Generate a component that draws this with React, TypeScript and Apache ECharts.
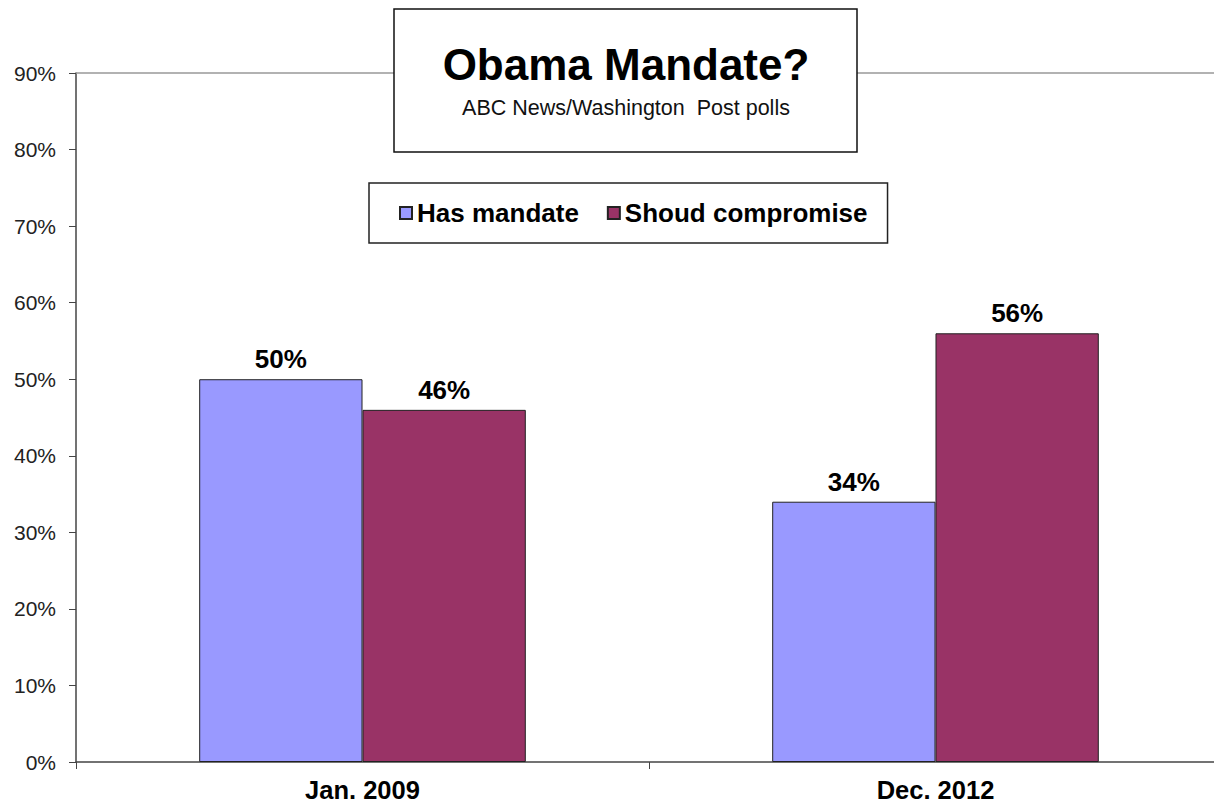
import React, { useEffect, useRef } from "react";
import * as echarts from "echarts";

const categories = ["Jan. 2009", "Dec. 2012"];
const hasMandate = [50, 34];
const shouldCompromise = [46, 56];
const seriesNames = ["Has mandate", "Shoud compromise"];
const yTicksMax = 90;
const titleText = "Obama Mandate?";
const subtitleText = "ABC News/Washington  Post polls";

const FONT = "'Liberation Sans', Arial, Helvetica, sans-serif";

export default function App() {
  const ref = useRef<HTMLDivElement>(null);
  useEffect(() => {
    document.body.style.margin = "0";
    document.body.style.overflow = "hidden";
    const chart = echarts.init(ref.current!, null, { renderer: "svg" });
    const labelStyle = {
      show: true,
      position: "top" as const,
      distance: 7,
      formatter: "{c}%",
      fontFamily: FONT,
      fontWeight: "bold" as const,
      fontSize: 26,
      color: "#000",
    };
    chart.setOption({
      animation: false,
      backgroundColor: "#fff",
      textStyle: { fontFamily: FONT },
      title: {
        text: titleText,
        subtext: subtitleText,
        left: 626,
        top: 42,
        textAlign: "center",
        padding: 0,
        itemGap: 11,
        z: 20,
        textStyle: { fontFamily: FONT, fontSize: 44, fontWeight: "bold", color: "#000" },
        subtextStyle: { fontFamily: FONT, fontSize: 21.5, color: "#111" },
      },
      graphic: [
        {
          type: "rect",
          z: 10,
          shape: { x: 394, y: 9, width: 463, height: 143 },
          style: { fill: "#fff", stroke: "#111", lineWidth: 1.5 },
        },
      ],
      legend: {
        left: 369,
        top: 183,
        padding: [17, 20, 17, 30],
        itemGap: 28,
        itemWidth: 12,
        itemHeight: 12,
        icon: "rect",
        borderColor: "#222",
        borderWidth: 1.5,
        backgroundColor: "#fff",
        textStyle: { fontFamily: FONT, fontSize: 26, fontWeight: "bold", color: "#000" },
        data: seriesNames,
      },
      grid: { left: 76, width: 1146, top: 73, height: 689, containLabel: false },
      xAxis: {
        type: "category",
        data: categories,
        axisLine: { lineStyle: { color: "#444", width: 1.5 } },
        axisTick: { show: true, length: 7, lineStyle: { color: "#444" } },
        axisLabel: {
          margin: 15,
          fontFamily: FONT,
          fontSize: 25.5,
          fontWeight: "bold",
          color: "#000",
        },
      },
      yAxis: {
        type: "value",
        min: 0,
        max: yTicksMax,
        interval: 10,
        axisLine: { show: true, lineStyle: { color: "#444", width: 1.5 } },
        axisTick: { show: true, length: 7, lineStyle: { color: "#444" } },
        splitLine: { show: false },
        axisLabel: {
          formatter: "{value}%",
          margin: 20,
          fontFamily: FONT,
          fontSize: 21,
          color: "#222",
        },
      },
      series: [
        {
          name: seriesNames[0],
          type: "bar",
          data: hasMandate,
          barGap: "0%",
          barCategoryGap: "43%",
          itemStyle: { color: "#9999FF", borderColor: "#222", borderWidth: 1 },
          label: labelStyle,
          markLine: {
            silent: true,
            symbol: "none",
            label: { show: false },
            lineStyle: { color: "#999", type: "solid", width: 1.5 },
            data: [{ yAxis: yTicksMax }],
            z: 1,
          },
        },
        {
          name: seriesNames[1],
          type: "bar",
          data: shouldCompromise,
          barGap: "0%",
          barCategoryGap: "43%",
          itemStyle: { color: "#993366", borderColor: "#222", borderWidth: 1 },
          label: labelStyle,
        },
      ],
    });
    return () => chart.dispose();
  }, []);
  return <div ref={ref} style={{ width: 1226, height: 803 }} />;
}
